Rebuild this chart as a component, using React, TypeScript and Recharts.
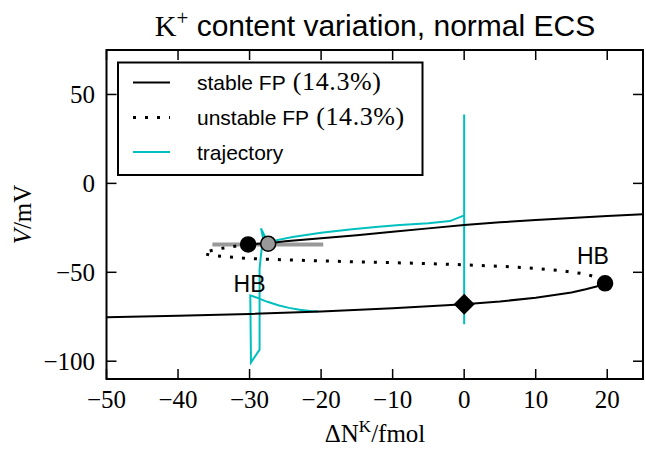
import React from 'react';
import { ComposedChart, Line, Scatter, XAxis, YAxis, ReferenceArea } from 'recharts';

const W = 646;
const H = 450;
// plot box in pixels (matches margins / axis sizes below)
const PLOT = { left: 106.5, top: 50, right: 643, bottom: 379 };

const SANS = '"Liberation Sans", Arial, sans-serif';
const SERIF = '"Liberation Serif", "Times New Roman", serif';
const CYAN = '#00bfbf';

const X_DOMAIN = [-50, 25];
const Y_DOMAIN = [-110, 75];
const X_TICKS = [-50, -40, -30, -20, -10, 0, 10, 20];
const Y_TICKS = [-100, -50, 0, 50];

// stable fixed points, upper branch (from left HB to the right edge)
const stableUpper = [
  { x: -30.2, y: -34.3 }, { x: -27.4, y: -33.6 }, { x: -25, y: -32.6 }, { x: -20, y: -30.9 },
  { x: -15, y: -29.1 }, { x: -10, y: -27.2 }, { x: -5, y: -25.3 }, { x: 0, y: -23.4 },
  { x: 5, y: -21.9 }, { x: 10, y: -20.6 }, { x: 15, y: -19.4 }, { x: 20, y: -18.3 }, { x: 25, y: -17.3 },
];

// stable fixed points, lower branch (up to right HB)
const stableLower = [
  { x: -50, y: -75.3 }, { x: -40, y: -74.5 }, { x: -30, y: -73.4 }, { x: -20, y: -72 },
  { x: -10, y: -70.2 }, { x: 0, y: -68 }, { x: 5, y: -66.4 }, { x: 10, y: -64.3 },
  { x: 15, y: -61.3 }, { x: 17, y: -59.5 }, { x: 18.5, y: -58 }, { x: 19.7, y: -56.2 },
];

// unstable fixed points (fold on the left, joins both HB points)
const unstable = [
  { x: -30.2, y: -34.3 }, { x: -32, y: -35.3 }, { x: -34, y: -36.6 }, { x: -35.8, y: -38.2 },
  { x: -36.4, y: -39.4 }, { x: -35.5, y: -40.4 }, { x: -34, y: -41 }, { x: -31, y: -42 },
  { x: -28, y: -42.6 }, { x: -20, y: -43.6 }, { x: -12, y: -44.4 }, { x: -5, y: -45.1 },
  { x: 0, y: -45.8 }, { x: 5, y: -46.6 }, { x: 10, y: -47.8 }, { x: 14, y: -49.3 },
  { x: 17, y: -51 }, { x: 18.8, y: -53.2 }, { x: 19.7, y: -56.2 },
];

// simulated trajectory, in time order
const trajectory = [
  { x: 0, y: -68 }, { x: 0, y: 38.8 }, { x: 0, y: -79.2 }, { x: 0, y: -18 },
  { x: -2, y: -21.2 }, { x: -5, y: -22.4 }, { x: -9, y: -23.4 }, { x: -12, y: -24.4 },
  { x: -16, y: -26 }, { x: -20, y: -27.8 }, { x: -24, y: -30.2 }, { x: -26.5, y: -32.2 },
  { x: -27.4, y: -33 }, { x: -27.9, y: -29.5 }, { x: -28.4, y: -25.3 }, { x: -28.1, y: -31 },
  { x: -28.4, y: -40 }, { x: -28.6, y: -48 }, { x: -28.6, y: -93.5 }, { x: -29.8, y: -100.7 },
  { x: -29.9, y: -63 }, { x: -28.8, y: -64.5 }, { x: -27.5, y: -66.6 }, { x: -26, y: -68.5 },
  { x: -24.5, y: -70 }, { x: -23, y: -71 }, { x: -21.5, y: -71.7 }, { x: -20.4, y: -72.1 },
];

// grey horizontal marker through the left HB
const greyBar = [{ x: -35.2, y: -34.3 }, { x: -19.7, y: -34.3 }];

const hbPoints = [{ x: -30.2, y: -34.3 }, { x: 19.7, y: -56.2 }];
const greyPoint = [{ x: -27.4, y: -33.9 }];
const restPoint = [{ x: 0, y: -68 }];
const hbLabels = [{ x: -30, y: -56.5, text: 'HB' }, { x: 18, y: -41, text: 'HB' }];

const fmt = (v: number) => (v < 0 ? `\u2212${Math.abs(v)}` : `${v}`);

const XTick = (props: any) => {
  const { x, payload } = props;
  return (
    <g>
      <line x1={x} x2={x} y1={PLOT.bottom} y2={PLOT.bottom - 10} stroke="#000" strokeWidth={1.5} />
      <line x1={x} x2={x} y1={PLOT.top} y2={PLOT.top + 10} stroke="#000" strokeWidth={1.5} />
      <text x={x} y={PLOT.bottom + 29} textAnchor="middle" fontFamily={SERIF} fontSize={25} fill="#000">
        {fmt(payload.value)}
      </text>
    </g>
  );
};

const YTick = (props: any) => {
  const { y, payload } = props;
  return (
    <g>
      <line x1={PLOT.left} x2={PLOT.left + 10} y1={y} y2={y} stroke="#000" strokeWidth={1.5} />
      <line x1={PLOT.right} x2={PLOT.right - 10} y1={y} y2={y} stroke="#000" strokeWidth={1.5} />
      <text x={95} y={y + 8.5} textAnchor="end" fontFamily={SERIF} fontSize={25} fill="#000">
        {fmt(payload.value)}
      </text>
    </g>
  );
};

const Dot = (fill: string, r: number) => (p: any) => (
  <circle cx={p.cx} cy={p.cy} r={r} fill={fill} stroke="#000" strokeWidth={1.5} />
);

const Diamond = (p: any) => {
  const s = 10.5;
  return (
    <path d={`M${p.cx},${p.cy - s}L${p.cx + s},${p.cy}L${p.cx},${p.cy + s}L${p.cx - s},${p.cy}Z`} fill="#000" />
  );
};

const HbText = (p: any) => (
  <text x={p.cx} y={p.cy + 8} textAnchor="middle" fontFamily={SANS} fontSize={23} fill="#000">
    {p.payload.text}
  </text>
);

const legendRows = [
  { label: 'stable FP', pct: '(14.3%)', dash: undefined, color: '#000', cy: 82.5 },
  { label: 'unstable FP', pct: '(14.3%)', dash: '3 9', color: '#000', cy: 117.5 },
  { label: 'trajectory', pct: '', dash: undefined, color: CYAN, cy: 152 },
];

export default function App() {
  return (
    <div style={{ position: 'absolute', left: 0, top: 0, width: W, height: H, background: '#fff' }}>
      <ComposedChart width={W} height={H} margin={{ top: 50, right: 3, bottom: 0, left: 0 }}>
        <XAxis
          dataKey="x"
          type="number"
          domain={X_DOMAIN}
          ticks={X_TICKS}
          allowDataOverflow
          height={71}
          axisLine={false}
          tickLine={false}
          tick={<XTick />}
        />
        <YAxis
          dataKey="y"
          type="number"
          domain={Y_DOMAIN}
          ticks={Y_TICKS}
          allowDataOverflow
          width={106.5}
          axisLine={false}
          tickLine={false}
          tick={<YTick />}
        />
        <Line data={greyBar} dataKey="y" stroke="#999" strokeWidth={4} dot={false} activeDot={false} isAnimationActive={false} />
        <Line data={trajectory} dataKey="y" stroke={CYAN} strokeWidth={2} dot={false} activeDot={false} isAnimationActive={false} />
        <Line data={stableUpper} dataKey="y" stroke="#000" strokeWidth={2} dot={false} activeDot={false} isAnimationActive={false} />
        <Line data={stableLower} dataKey="y" stroke="#000" strokeWidth={2} dot={false} activeDot={false} isAnimationActive={false} />
        <Line data={unstable} dataKey="y" stroke="#000" strokeWidth={3} strokeDasharray="3 9" dot={false} activeDot={false} isAnimationActive={false} />
        <Scatter data={hbPoints} dataKey="y" shape={Dot('#000', 7.5)} isAnimationActive={false} />
        <Scatter data={greyPoint} dataKey="y" shape={Dot('#999', 7.5)} isAnimationActive={false} />
        <Scatter data={restPoint} dataKey="y" shape={Diamond} isAnimationActive={false} />
        <Scatter data={hbLabels} dataKey="y" shape={HbText} isAnimationActive={false} />
        <ReferenceArea x1={X_DOMAIN[0]} x2={X_DOMAIN[1]} y1={Y_DOMAIN[0]} y2={Y_DOMAIN[1]} fill="none" stroke="#000" strokeWidth={2} ifOverflow="visible" />
      </ComposedChart>

      <svg width={W} height={H} style={{ position: 'absolute', left: 0, top: 0, pointerEvents: 'none' }}>
        {/* title */}
        <text x={375} y={36} textAnchor="middle" fontSize={30} fill="#000">
          <tspan fontFamily={SERIF}>K</tspan>
          <tspan fontFamily={SERIF} fontSize={21} dy={-11}>+</tspan>
          <tspan fontFamily={SANS} dy={11}>{'\u00a0content variation, normal ECS'}</tspan>
        </text>
        {/* axis labels */}
        <text x={375} y={442} textAnchor="middle" fontFamily={SERIF} fontSize={25} fill="#000">
          {'\u0394N'}
          <tspan fontSize={17} dy={-10}>K</tspan>
          <tspan dy={10}>/fmol</tspan>
        </text>
        <text transform="translate(31,214.5) rotate(-90)" textAnchor="middle" fontFamily={SERIF} fontSize={25} fill="#000">
          <tspan fontStyle="italic">V</tspan>/mV
        </text>
        {/* legend */}
        <rect x={118} y={62.5} width={304.5} height={112.5} fill="#fff" stroke="#000" strokeWidth={2} />
        {legendRows.map((r) => (
          <g key={r.label}>
            <line x1={133} x2={170} y1={r.cy} y2={r.cy} stroke={r.color} strokeWidth={r.dash ? 3 : 2} strokeDasharray={r.dash} />
            <text x={197} y={r.cy + 7.5} fontFamily={SANS} fontSize={21} fill="#000">
              {r.label}
              {r.pct && (
                <tspan fontFamily={SERIF} fontSize={26} letterSpacing={0.6}>
                  {'\u00a0' + r.pct}
                </tspan>
              )}
            </text>
          </g>
        ))}
      </svg>
    </div>
  );
}
